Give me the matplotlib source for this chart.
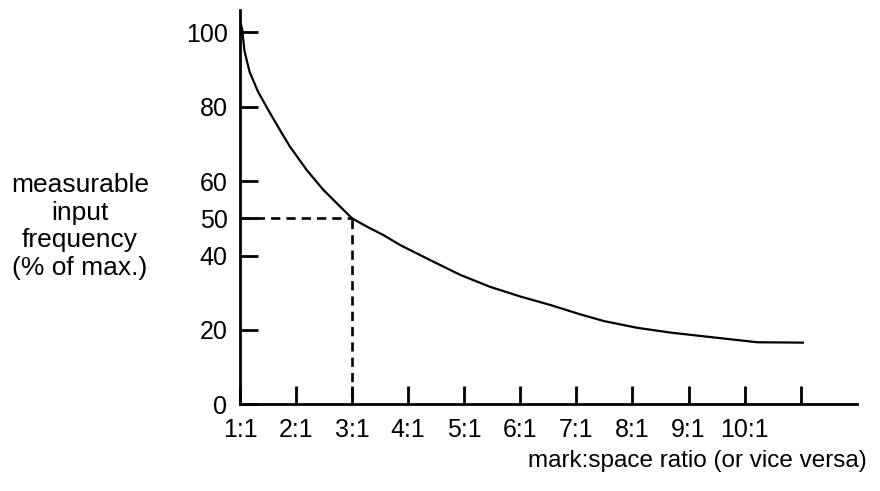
import matplotlib
matplotlib.use("Agg")
import matplotlib.pyplot as plt

# ---- data ----
ratio_x = [1.0, 1.02, 1.04, 1.08, 1.17, 1.32, 1.52, 1.73, 1.89, 2.19, 2.49, 2.79, 3.0, 3.26, 3.56,
           3.86, 4.39, 4.93, 5.46, 6.0, 6.54, 7.07, 7.49, 8.08, 8.68, 9.27, 9.87, 10.23, 11.06]
freq_y = [103.0, 102.0, 100.5, 95.0, 89.4, 84.1, 78.7, 73.3, 69.3, 63.0, 57.6, 53.1, 50.0, 47.8, 45.5,
          42.8, 38.8, 34.8, 31.6, 29.0, 26.7, 24.2, 22.4, 20.6, 19.3, 18.3, 17.3, 16.7, 16.6]
x_ticks = [1, 2, 3, 4, 5, 6, 7, 8, 9, 10, 11]
x_tick_labels = ["1:1", "2:1", "3:1", "4:1", "5:1", "6:1", "7:1", "8:1", "9:1", "10:1", ""]
y_ticks = [0, 20, 40, 50, 60, 80, 100]
y_tick_labels = ["0", "20", "40", "50", "60", "80", "100"]
marker_x = 3
marker_y = 50

plt.rcParams['font.family'] = ['Liberation Sans', 'DejaVu Sans']

fig = plt.figure(figsize=(8.8, 4.91), dpi=100)
ax = fig.add_axes([240/880, 1-404.4/491, (856.7-240)/880, (404.4-10)/491])

ax.plot(ratio_x, freq_y, color='black', lw=1.6, solid_capstyle='butt', solid_joinstyle='round')
ax.plot([1, marker_x], [marker_y, marker_y], color='black', lw=1.9, dashes=(3.5, 2.3))
ax.plot([marker_x, marker_x], [2, marker_y], color='black', lw=1.9, dashes=(3.5, 2.3))

ax.set_xlim(1, 12)
ax.set_ylim(0, 106)
for s in ['top', 'right']:
    ax.spines[s].set_visible(False)
for s in ['left', 'bottom']:
    ax.spines[s].set_linewidth(2.0)

ax.set_xticks(x_ticks)
ax.set_xticklabels(x_tick_labels)
ax.set_yticks(y_ticks)
ax.set_yticklabels(y_tick_labels)
ax.tick_params(axis='both', direction='in', length=13, width=2.0, labelsize=18, color='black')
ax.tick_params(axis='x', pad=10)
ax.tick_params(axis='y', pad=9)

fig.text(80/880, 1-226.5/491, "measurable\ninput\nfrequency\n(% of max.)", ha='center', va='center',
         multialignment='center', fontsize=19, linespacing=1.2)
fig.text(867/880, 1-461/491, "mark:space ratio (or vice versa)", ha='right', va='center', fontsize=17.5)

fig.savefig("out.png", dpi=100)
